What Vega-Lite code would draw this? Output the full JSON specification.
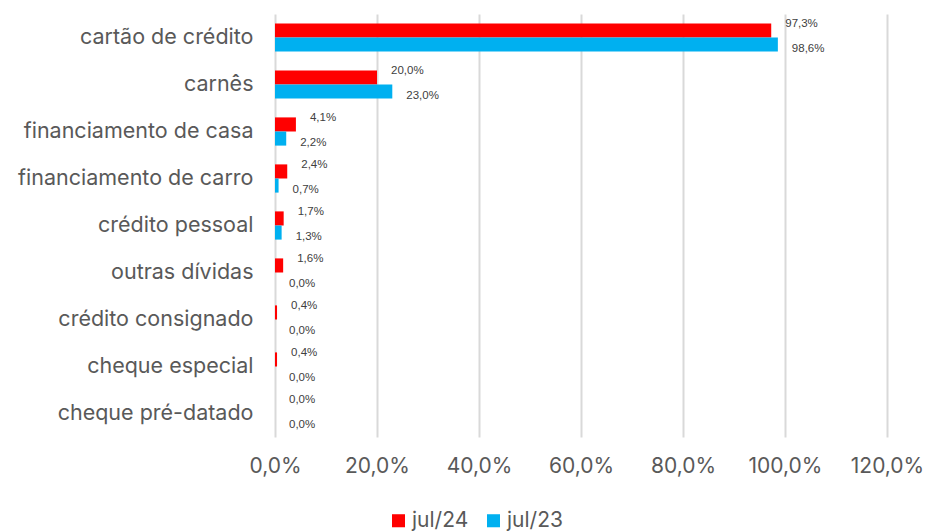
{
  "$schema": "https://vega.github.io/schema/vega-lite/v6.json",
  "width": 612,
  "height": 423,
  "autosize": {"type": "none"},
  "padding": {"left": 275, "top": 14, "right": 41, "bottom": 95},
  "background": "white",
  "config": {
    "locale": {"number": {"decimal": ",", "thousands": ".", "grouping": [3], "currency": ["R$", ""]}},
    "view": {"stroke": null},
    "font": "Inter"
  },
  "data": {
    "values": [
      {"categoria": "cartão de crédito", "serie": "jul/24", "valor": 0.973},
      {"categoria": "cartão de crédito", "serie": "jul/23", "valor": 0.986},
      {"categoria": "carnês", "serie": "jul/24", "valor": 0.200},
      {"categoria": "carnês", "serie": "jul/23", "valor": 0.230},
      {"categoria": "financiamento de casa", "serie": "jul/24", "valor": 0.041},
      {"categoria": "financiamento de casa", "serie": "jul/23", "valor": 0.022},
      {"categoria": "financiamento de carro", "serie": "jul/24", "valor": 0.024},
      {"categoria": "financiamento de carro", "serie": "jul/23", "valor": 0.007},
      {"categoria": "crédito pessoal", "serie": "jul/24", "valor": 0.017},
      {"categoria": "crédito pessoal", "serie": "jul/23", "valor": 0.013},
      {"categoria": "outras dívidas", "serie": "jul/24", "valor": 0.016},
      {"categoria": "outras dívidas", "serie": "jul/23", "valor": 0.0},
      {"categoria": "crédito consignado", "serie": "jul/24", "valor": 0.004},
      {"categoria": "crédito consignado", "serie": "jul/23", "valor": 0.0},
      {"categoria": "cheque especial", "serie": "jul/24", "valor": 0.004},
      {"categoria": "cheque especial", "serie": "jul/23", "valor": 0.0},
      {"categoria": "cheque pré-datado", "serie": "jul/24", "valor": 0.0},
      {"categoria": "cheque pré-datado", "serie": "jul/23", "valor": 0.0}
    ]
  },
  "encoding": {
    "y": {
      "field": "categoria",
      "type": "nominal",
      "sort": null,
      "scale": {"paddingInner": 0.4, "paddingOuter": 0.2},
      "axis": {
        "title": null,
        "domain": false,
        "ticks": false,
        "labelFontSize": 21.5,
        "labelColor": "#595959",
        "labelPadding": 22,
        "labelLimit": 300
      }
    },
    "yOffset": {"field": "serie", "sort": ["jul/24", "jul/23"]},
    "x": {
      "field": "valor",
      "type": "quantitative",
      "scale": {"domain": [0, 1.2], "nice": false},
      "axis": {
        "title": null,
        "format": ".1%",
        "values": [0, 0.2, 0.4, 0.6, 0.8, 1.0, 1.2],
        "domain": false,
        "ticks": false,
        "labelFlush": false,
        "labelOverlap": false,
        "labelFontSize": 21,
        "labelColor": "#595959",
        "labelPadding": 18,
        "gridColor": "#d9d9d9",
        "gridWidth": 2
      }
    }
  },
  "layer": [
    {
      "mark": {"type": "bar"},
      "encoding": {
        "color": {
          "field": "serie",
          "type": "nominal",
          "scale": {"domain": ["jul/24", "jul/23"], "range": ["#FF0000", "#00B0F0"]},
          "legend": {
            "title": null,
            "orient": "none",
            "direction": "horizontal",
            "legendX": 113,
            "legendY": 496,
            "symbolType": "square",
            "symbolSize": 170,
            "symbolStrokeWidth": 0,
            "labelFontSize": 21,
            "labelColor": "#595959",
            "labelOffset": 3,
            "columnPadding": 14
          }
        }
      }
    },
    {
      "transform": [{"filter": "datum.serie == 'jul/24'"}],
      "mark": {"type": "text", "align": "left", "dx": 14, "dy": -6, "fontSize": 11.5, "color": "#404040", "font": "Liberation Sans"},
      "encoding": {"text": {"field": "valor", "type": "quantitative", "format": ".1%"}}
    },
    {
      "transform": [{"filter": "datum.serie == 'jul/23'"}],
      "mark": {"type": "text", "align": "left", "dx": 14, "dy": 4, "fontSize": 11.5, "color": "#404040", "font": "Liberation Sans"},
      "encoding": {"text": {"field": "valor", "type": "quantitative", "format": ".1%"}}
    }
  ]
}
